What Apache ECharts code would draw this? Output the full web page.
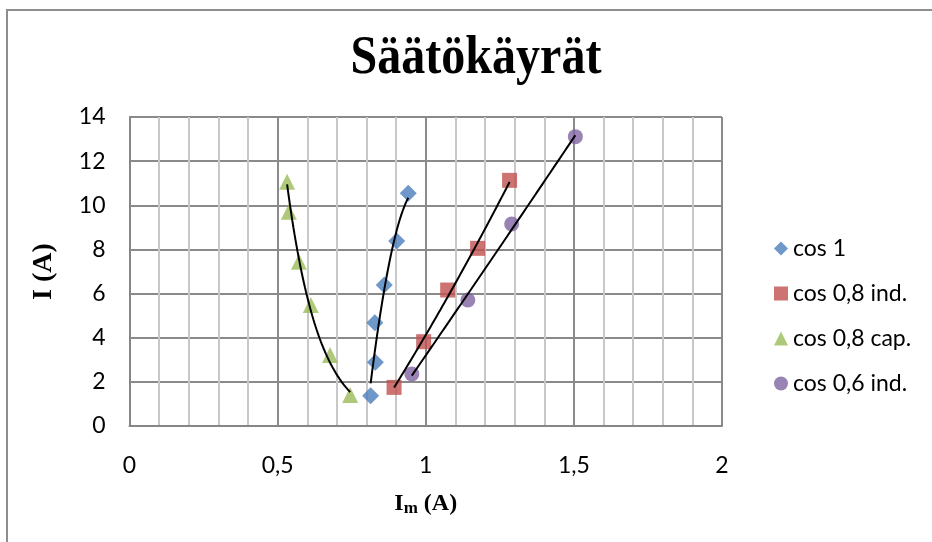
<!DOCTYPE html>
<html>
<head>
<meta charset="utf-8">
<script src="https://cdn.jsdelivr.net/npm/echarts@6/dist/echarts.min.js"></script>
<style>
  html, body { margin: 0; padding: 0; background: #fff; }
  #chart { width: 932px; height: 542px; }
</style>
</head>
<body>
<div id="chart"></div>
<script>
// Magnetising current Im (A) vs. armature current I (A) for each power factor
const cos1Im   = [0.814, 0.830, 0.828, 0.860, 0.902, 0.941];
const cos1I    = [1.37, 2.89, 4.68, 6.39, 8.38, 10.54];
const ind08Im  = [0.893, 0.993, 1.074, 1.175, 1.283];
const ind08I   = [1.75, 3.82, 6.16, 8.05, 11.13];
const cap08Im  = [0.745, 0.677, 0.612, 0.572, 0.538, 0.532];
const cap08I   = [1.40, 3.22, 5.48, 7.44, 9.71, 11.07];
const ind06Im  = [0.953, 1.142, 1.290, 1.505];
const ind06I   = [2.36, 5.71, 9.15, 13.11];

const seriesNames = ['cos 1', 'cos 0,8 ind.', 'cos 0,8 cap.', 'cos 0,6 ind.'];
// trendline model of each series
const trendType = ['poly2', 'poly2', 'exp', 'poly2'];

const colors  = ['#4a7ebb', '#c0504d', '#9bbb59', '#8064a2'];
const symbols = ['diamond', 'rect', 'triangle', 'circle'];
const sizes   = [17, 15, 16, 15];

const groups = [
  [cos1Im, cos1I],
  [ind08Im, ind08I],
  [cap08Im, cap08I],
  [ind06Im, ind06I]
];

// Least-squares polynomial coefficients (normal equations, Gauss-Jordan)
function polyFit(xs, ys, deg) {
  const m = deg + 1;
  const A = [];
  for (let r = 0; r < m; r++) {
    const row = new Array(m + 1).fill(0);
    for (let i = 0; i < xs.length; i++) {
      for (let c = 0; c < m; c++) row[c] += Math.pow(xs[i], r + c);
      row[m] += Math.pow(xs[i], r) * ys[i];
    }
    A.push(row);
  }
  for (let c = 0; c < m; c++) {
    let piv = c;
    for (let r = c + 1; r < m; r++) if (Math.abs(A[r][c]) > Math.abs(A[piv][c])) piv = r;
    [A[c], A[piv]] = [A[piv], A[c]];
    for (let r = 0; r < m; r++) {
      if (r === c) continue;
      const f = A[r][c] / A[c][c];
      for (let k = c; k <= m; k++) A[r][k] -= f * A[c][k];
    }
  }
  return A.map((row, i) => row[m] / row[i]);
}

// Trendline model evaluated over the series' own x range
function trendPoints(xs, ys, type) {
  let model;
  if (type === 'exp') {
    const c = polyFit(xs, ys.map(Math.log), 1);
    model = x => Math.exp(c[0] + c[1] * x);
  } else {
    const c = polyFit(xs, ys, parseInt(type.slice(4), 10));
    model = x => { let y = 0; for (let k = c.length - 1; k >= 0; k--) y = y * x + c[k]; return y; };
  }
  const lo = Math.min(...xs), hi = Math.max(...xs);
  const pts = [];
  const n = 60;
  for (let i = 0; i <= n; i++) {
    const x = lo + (hi - lo) * i / n;
    pts.push([x, model(x)]);
  }
  return pts;
}

const fmt = v => String(v).replace('.', ',');
const series = [];
groups.forEach((g, i) => {
  series.push({
    name: seriesNames[i],
    type: 'scatter',
    symbol: symbols[i],
    symbolSize: sizes[i],
    itemStyle: { color: colors[i] },
    data: g[0].map((x, j) => [x, g[1][j]]),
    z: 3
  });
});
groups.forEach((g, i) => {
  series.push({
    type: 'line',
    data: trendPoints(g[0], g[1], trendType[i]),
    showSymbol: false,
    symbol: 'none',
    lineStyle: { color: '#000', width: 2 },
    silent: true,
    z: 4
  });
});

const labelFont = 'Lato, "Open Sans", sans-serif';
const serifFont = '"Liberation Serif", "Times New Roman", serif';

const chart = echarts.init(document.getElementById('chart'), null, { renderer: 'canvas' });
chart.setOption({
  animation: false,
  backgroundColor: '#fff',
  color: colors,
  grid: { left: 129.5, right: 210, top: 117, bottom: 116, containLabel: false },
  graphic: [
    {
      type: 'rect',
      shape: { x: 7, y: 10, width: 1000, height: 1000 },
      style: { fill: 'none', stroke: '#8e8e8e', lineWidth: 2 },
      silent: true
    },
    {
      type: 'text',
      x: 476, y: 59,
      scaleX: 0.89,
      style: {
        text: 'Säätökäyrät',
        font: 'bold 54px ' + serifFont,
        fill: '#000',
        textAlign: 'center',
        textVerticalAlign: 'middle'
      }
    }
  ],
  legend: {
    orient: 'vertical',
    left: 769,
    top: 232,
    itemGap: 22,
    itemWidth: 14,
    itemHeight: 14,
    data: seriesNames.map((n, i) => ({ name: n, icon: symbols[i] })),
    textStyle: { fontFamily: labelFont, fontSize: 23, color: '#000' }
  },
  xAxis: {
    type: 'value',
    min: 0, max: 2, interval: 0.5,
    name: '{i|I}{m|m}{i| (A)}',
    nameLocation: 'middle',
    nameGap: 64,
    nameTextStyle: {
      rich: {
        i: { fontFamily: serifFont, fontWeight: 'bold', fontSize: 24, color: '#000' },
        m: { fontFamily: serifFont, fontWeight: 'bold', fontSize: 17, color: '#000', verticalAlign: 'bottom', padding: [10, 0, 0, 0] }
      }
    },
    axisLine: { show: true, lineStyle: { color: '#868686', width: 2 } },
    axisTick: { show: false },
    axisLabel: {
      formatter: v => fmt(v),
      fontFamily: labelFont,
      fontSize: 23, color: '#000', margin: 28
    },
    splitLine: { show: true, lineStyle: { color: '#8a8a8a', width: 2 } },
    minorTick: { show: false, splitNumber: 5 },
    minorSplitLine: { show: true, lineStyle: { color: '#c8c8c8', width: 2 } }
  },
  yAxis: {
    type: 'value',
    min: 0, max: 14, interval: 2,
    name: 'I (A)',
    nameLocation: 'middle',
    nameGap: 72,
    nameRotate: 90,
    nameTextStyle: { fontFamily: serifFont, fontWeight: 'bold', fontSize: 28, color: '#000' },
    axisLine: { show: true, lineStyle: { color: '#868686', width: 2 } },
    axisTick: { show: false },
    axisLabel: {
      fontFamily: labelFont,
      fontSize: 23, color: '#000', margin: 24
    },
    splitLine: { show: true, lineStyle: { color: '#8a8a8a', width: 2 } }
  },
  series: series
});
</script>
</body>
</html>
